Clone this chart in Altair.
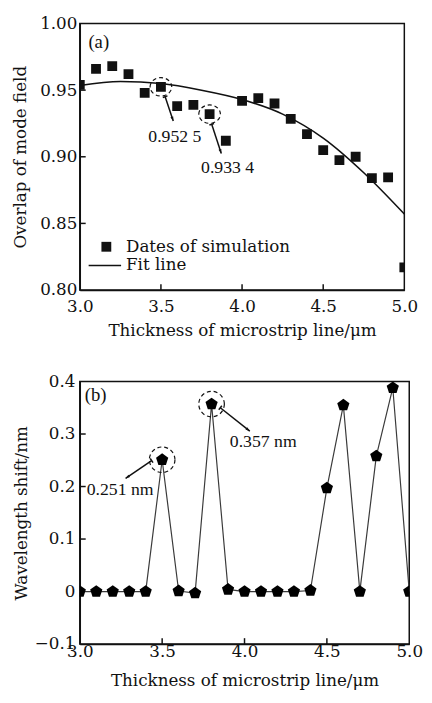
import altair as alt
import pandas as pd

# ---------------- data ----------------
thickness = [3.0, 3.1, 3.2, 3.3, 3.4, 3.5, 3.6, 3.7, 3.8, 3.9, 4.0,
             4.1, 4.2, 4.3, 4.4, 4.5, 4.6, 4.7, 4.8, 4.9, 5.0]
overlap_sim = [0.954, 0.966, 0.968, 0.962, 0.948, 0.9525, 0.938, 0.939, 0.932, 0.912, 0.942,
               0.944, 0.940, 0.9285, 0.917, 0.905, 0.8975, 0.900, 0.884, 0.8846, 0.817]
fit_x = [3.0, 3.25, 3.5, 3.75, 4.0, 4.25, 4.5, 4.75, 5.0]
fit_y = [0.9535, 0.9565, 0.955, 0.950, 0.943, 0.932, 0.914, 0.888, 0.857]
shift_nm = [0, 0, 0, 0, 0, 0.251, 0.001, -0.003, 0.357, 0.004, 0,
            0, 0, 0, 0.002, 0.197, 0.355, 0, 0.258, 0.388, 0]

x_ticks = [3.0, 3.5, 4.0, 4.5, 5.0]
ya_ticks = [0.80, 0.85, 0.90, 0.95, 1.00]
yb_ticks = [-0.1, 0.0, 0.1, 0.2, 0.3, 0.4]

# annotations (data coordinates)
a_marked_x = [3.5, 3.8]
a_marked_y = [0.9525, 0.932]
a_arrow_x = [3.526, 3.813]
a_arrow_y = [0.9451, 0.9244]
a_arrow_x2 = [3.576, 3.872]
a_arrow_y2 = [0.9268, 0.9024]
a_arrow_angle = [161.6, 161.6]
a_text = ["0.952 5", "0.933 4"]
a_text_x = [3.586, 3.911]
a_text_y = [0.9146, 0.8917]

b_marked_x = [3.5, 3.8]
b_marked_y = [0.251, 0.357]
b_arrow_x = [3.436, 3.853]
b_arrow_y = [0.2495, 0.350]
b_arrow_x2 = [3.278, 4.032]
b_arrow_y2 = [0.2155, 0.3054]
b_arrow_angle = [235.5, 128.7]
b_text = ["0.251 nm", "0.357 nm"]
b_text_x = [3.042, 3.911]
b_text_y = [0.1937, 0.285]

FONT = "DejaVu Serif"
TFONT = "Liberation Serif"
INK = "#111111"
X_TITLE = "Thickness of microstrip line/μm"

PENTAGON = "M0,-1L0.951,-0.309L0.588,0.809L-0.588,0.809L-0.951,-0.309Z"
ELLIPSE = "M-1,0A1,0.85 0 1,1 1,0A1,0.85 0 1,1 -1,0Z"
ARROWHEAD = "M0,0L0.5,1.5L-0.5,1.5Z"
TBAR = "M-1,0L1,0"

xs = alt.Scale(domain=[3, 5], nice=False, zero=False)
ya_s = alt.Scale(domain=[0.80, 1.00], nice=False, zero=False)
yb_s = alt.Scale(domain=[-0.1, 0.4], nice=False, zero=False)

xa_axis = alt.Axis(values=x_ticks, format=".1f", labelFlush=False, labelPadding=9, titlePadding=8)
ya_axis = alt.Axis(values=ya_ticks, format=".2f", labelPadding=3, titlePadding=10.5)
xb_axis = alt.Axis(values=x_ticks, format=".1f", labelFlush=False, labelPadding=0, titlePadding=13)
yb_axis = alt.Axis(values=yb_ticks, labelPadding=5, titlePadding=4,
                   labelExpr="datum.value == 0 ? '0' : format(datum.value, '.1f')")


def make_xy(panel):
    if panel == "a":
        def X(f):
            return alt.X(f, scale=xs, title=X_TITLE, axis=xa_axis)

        def Y(f):
            return alt.Y(f, scale=ya_s, title="Overlap of mode field", axis=ya_axis)
    else:
        def X(f):
            return alt.X(f, scale=xs, title=X_TITLE, axis=xb_axis)

        def Y(f):
            return alt.Y(f, scale=yb_s, title="Wavelength shift/nm", axis=yb_axis)
    return X, Y


def annotation_layers(X, Y, marked, arrows, ring_shape, ring_size):
    ring = alt.Chart(marked).mark_point(
        shape=ring_shape, size=ring_size, filled=False, stroke=INK,
        strokeWidth=1.2, strokeDash=[4, 3], opacity=1
    ).encode(x=X("x:Q"), y=Y("y:Q"))
    shaft = alt.Chart(arrows).mark_rule(color=INK, strokeWidth=1.5).encode(
        x=X("x:Q"), y=Y("y:Q"), x2="x2:Q", y2="y2:Q")
    head = alt.Chart(arrows).mark_point(
        shape=ARROWHEAD, size=36, filled=True, color=INK, opacity=1
    ).encode(x=X("x2:Q"), y=Y("y2:Q"), angle=alt.Angle("ang:Q", scale=None))
    bar = alt.Chart(arrows).mark_point(
        shape=TBAR, size=25, filled=False, stroke=INK, strokeWidth=1.5, opacity=1
    ).encode(x=X("x:Q"), y=Y("y:Q"), angle=alt.Angle("ang:Q", scale=None))
    return [ring, shaft, head, bar]


# ---------------- panel (a) ----------------
W_A, H_A = 330, 271
XA, YA = make_xy("a")
sim_df = pd.DataFrame({"x": thickness, "y": overlap_sim})
fit_df = pd.DataFrame({"x": fit_x, "y": fit_y})

fit_line = alt.Chart(fit_df).mark_line(color=INK, strokeWidth=1.6, interpolate="monotone").encode(
    x=XA("x:Q"), y=YA("y:Q"))
squares = alt.Chart(sim_df).mark_square(size=100, color=INK, opacity=1, clip=True).encode(
    x=XA("x:Q"), y=YA("y:Q"))

xt_a = alt.Chart(pd.DataFrame({"t": x_ticks[1:-1]})).mark_rule(color=INK, strokeWidth=1.5).encode(
    x=XA("t:Q"), y=alt.value(H_A), y2=alt.value(H_A - 6))
yt_a = alt.Chart(pd.DataFrame({"t": ya_ticks[1:-1]})).mark_rule(color=INK, strokeWidth=1.5).encode(
    y=YA("t:Q"), x=alt.value(0), x2=alt.value(6))

a_marked = pd.DataFrame({"x": a_marked_x, "y": a_marked_y})
a_arrows = pd.DataFrame({"x": a_arrow_x, "y": a_arrow_y, "x2": a_arrow_x2, "y2": a_arrow_y2,
                         "ang": a_arrow_angle})
a_texts = pd.DataFrame({"x": a_text_x, "y": a_text_y, "t": a_text})
a_lbl = alt.Chart(a_texts).mark_text(font=TFONT, fontSize=18, color=INK, align="center",
                                     baseline="middle").encode(
    x=XA("x:Q"), y=YA("y:Q"), text="t:N")

panel_a_tag = alt.Chart(pd.DataFrame({"x": [3.053], "y": [0.986], "t": ["(a)"]})).mark_text(
    font=TFONT, fontSize=19, color=INK, align="left", baseline="middle").encode(
    x=XA("x:Q"), y=YA("y:Q"), text="t:N")

# legend (drawn inside plot area, pixel placement)
LEG_Y1, LEG_Y2 = H_A - 44, H_A - 25
leg_sq = alt.Chart(pd.DataFrame({"k": [0]})).mark_square(size=100, color=INK, opacity=1).encode(
    x=alt.value(27), y=alt.value(LEG_Y1))
leg_ln = alt.Chart(pd.DataFrame({"k": [0]})).mark_rule(color=INK, strokeWidth=1.5).encode(
    x=alt.value(9), x2=alt.value(42), y=alt.value(LEG_Y2))
leg_tx1 = alt.Chart(pd.DataFrame({"t": ["Dates of simulation"]})).mark_text(
    font=FONT, fontSize=17, color=INK, align="left", baseline="middle").encode(
    x=alt.value(47), y=alt.value(LEG_Y1), text="t:N")
leg_tx2 = alt.Chart(pd.DataFrame({"t": ["Fit line"]})).mark_text(
    font=FONT, fontSize=17, color=INK, align="left", baseline="middle").encode(
    x=alt.value(47), y=alt.value(LEG_Y2), text="t:N")

# invisible element that sets panel (a)'s left extent (panel (a) sits a bit right of (b))
shifter = alt.Chart(pd.DataFrame({"k": [0]})).mark_rule(color="white", opacity=0).encode(
    x=alt.value(-72), x2=alt.value(-71), y=alt.value(H_A - 2), y2=alt.value(H_A - 3))

top = alt.layer(
    fit_line, squares, xt_a, yt_a,
    *annotation_layers(XA, YA, a_marked, a_arrows, ELLIPSE, 484),
    a_lbl, panel_a_tag, leg_sq, leg_ln, leg_tx1, leg_tx2, shifter,
).properties(width=W_A, height=H_A)

# ---------------- panel (b) ----------------
W_B, H_B = 335, 267
XB, YB = make_xy("b")
shift_df = pd.DataFrame({"x": thickness, "y": shift_nm})

b_line = alt.Chart(shift_df).mark_line(color="#3a3a3a", strokeWidth=1.2).encode(
    x=XB("x:Q"), y=YB("y:Q"))
pentagons = alt.Chart(shift_df).mark_point(
    shape=PENTAGON, size=170, filled=True, color="#000000", opacity=1, clip=True).encode(
    x=XB("x:Q"), y=YB("y:Q"))

xt_b = alt.Chart(pd.DataFrame({"t": x_ticks[1:-1]})).mark_rule(color=INK, strokeWidth=1.5).encode(
    x=XB("t:Q"), y=alt.value(H_B), y2=alt.value(H_B - 6))
yt_b = alt.Chart(pd.DataFrame({"t": [0.1, 0.2, 0.3]})).mark_rule(color=INK, strokeWidth=1.5).encode(
    y=YB("t:Q"), x=alt.value(0), x2=alt.value(6))

b_marked = pd.DataFrame({"x": b_marked_x, "y": b_marked_y})
b_arrows = pd.DataFrame({"x": b_arrow_x, "y": b_arrow_y, "x2": b_arrow_x2, "y2": b_arrow_y2,
                         "ang": b_arrow_angle})
b_texts = pd.DataFrame({"x": b_text_x, "y": b_text_y, "t": b_text})
b_lbl = alt.Chart(b_texts).mark_text(font=TFONT, fontSize=18, color=INK, align="left",
                                     baseline="middle").encode(
    x=XB("x:Q"), y=YB("y:Q"), text="t:N")

panel_b_tag = alt.Chart(pd.DataFrame({"x": [3.03], "y": [0.375], "t": ["(b)"]})).mark_text(
    font=TFONT, fontSize=19, color=INK, align="left", baseline="middle").encode(
    x=XB("x:Q"), y=YB("y:Q"), text="t:N")

bottom = alt.layer(
    b_line, pentagons, xt_b, yt_b,
    *annotation_layers(XB, YB, b_marked, b_arrows, "circle", 676),
    b_lbl, panel_b_tag,
).properties(width=W_B, height=H_B)

chart = alt.vconcat(alt.hconcat(top), alt.hconcat(bottom), spacing=33).properties(
    padding={"left": 0, "top": 0, "right": 0, "bottom": 0},
    background="white",
).configure_view(
    stroke=INK, strokeWidth=1.5
).configure_axis(
    labelFont=FONT, labelFontSize=17, labelColor=INK,
    titleFont=FONT, titleFontSize=17, titleFontWeight="normal", titleColor=INK,
    domainColor=INK, domainWidth=1.5, ticks=False, grid=False,
)

chart.save("out.html", embed_options={"renderer": "svg", "actions": False})
